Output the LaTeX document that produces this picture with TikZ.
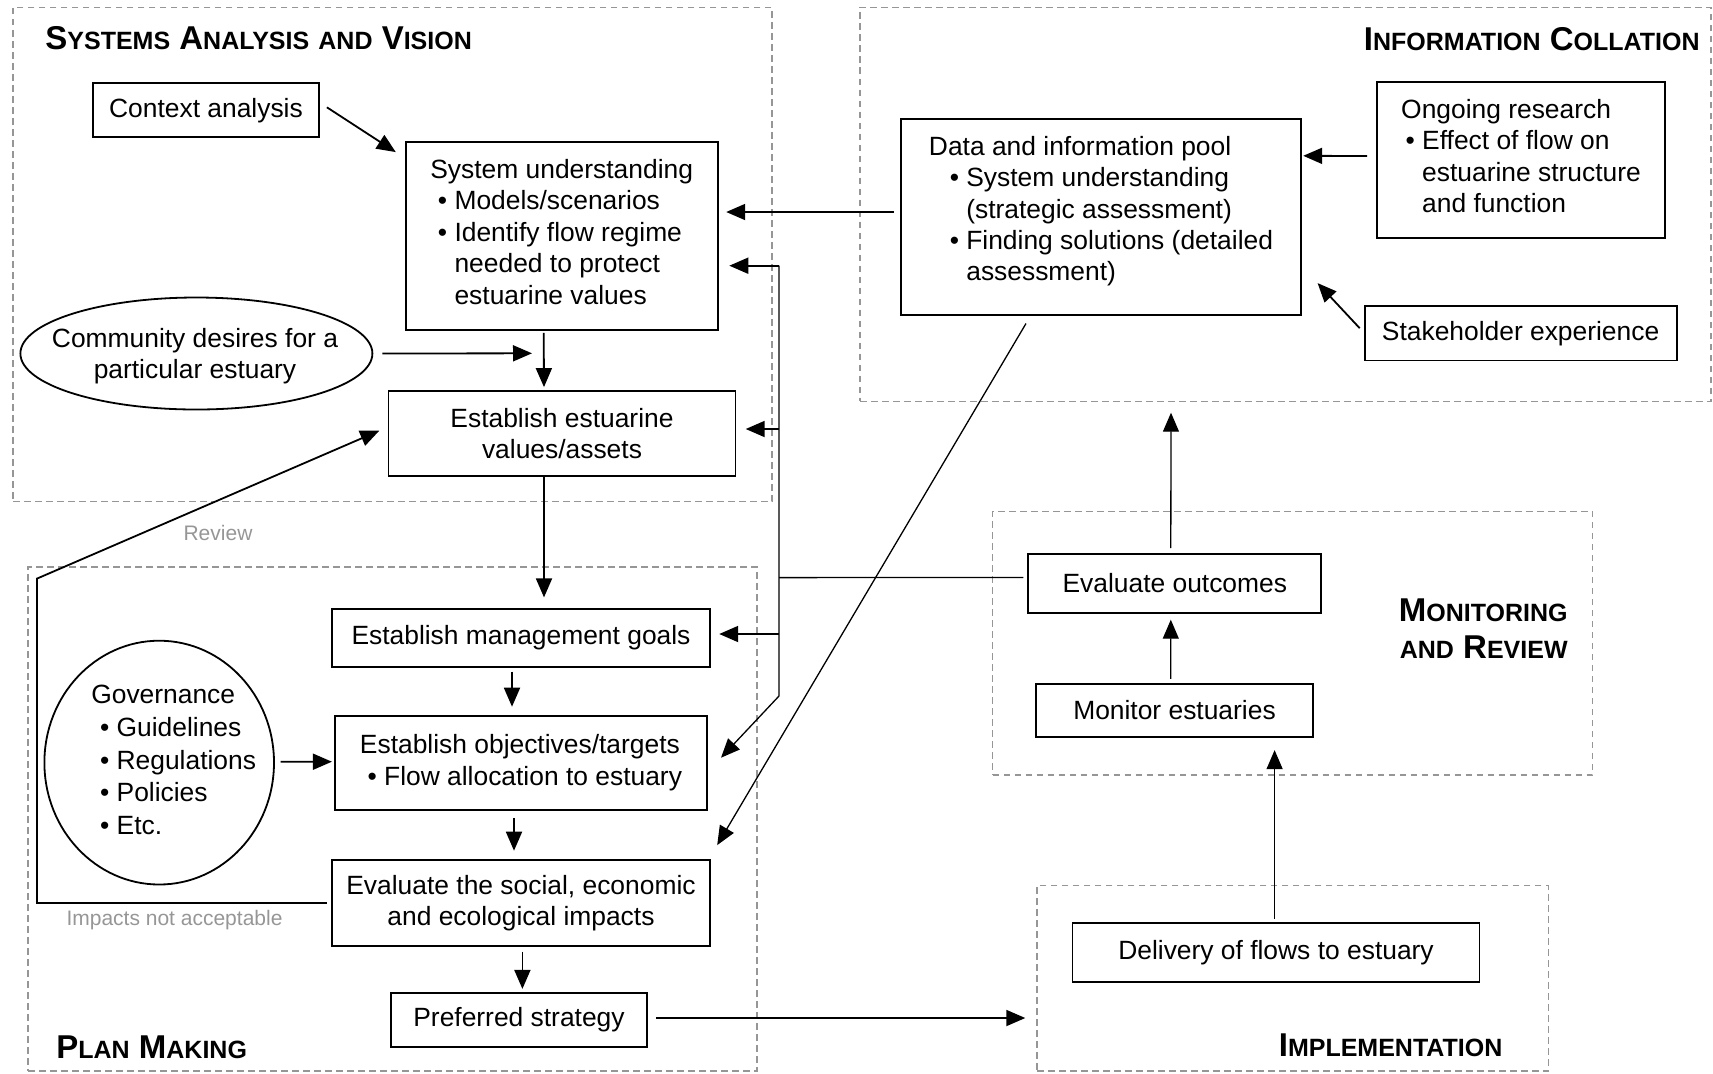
\documentclass[tikz,border=0pt]{standalone}
\usepackage{fontspec}
\setmainfont{Liberation Sans}
\usetikzlibrary{arrows.meta,shapes.geometric}

\definecolor{regiongray}{RGB}{150,150,150}
\definecolor{notegray}{RGB}{150,150,150}
\newcommand\bodyfont{\fontsize{13.2}{15.7}\selectfont}
\newcommand\hsc[2]{{\fontsize{16.5}{18.5}\selectfont #1}{\fontsize{12.5}{14}\selectfont #2}}
\newcommand\sml[1]{{\fontsize{12.5}{14}\selectfont #1}}
\newcommand\bitem[2]{\hspace*{#1}\textbullet\ #2}
\newcommand\bcont[2]{\hspace*{#1}\phantom{\textbullet\ }#2}

\begin{document}
\begin{tikzpicture}[x=0.5pt,y=-0.5pt,
    box/.style={draw,line width=0.9pt,inner sep=2pt,font=\bodyfont},
    oval/.style={draw,ellipse,line width=0.9pt,inner sep=0pt},
    region/.style={draw=regiongray,line width=0.6pt,dash pattern=on 3.3pt off 2.2pt,inner sep=0pt},
    heading/.style={font=\bfseries\fontsize{16.5}{18.5}\selectfont,inner sep=0pt},
    note/.style={text=notegray,font=\fontsize{10.5}{12}\selectfont,inner sep=0pt},
    arr/.style={-{Triangle[length=9.5pt,width=8pt]},line width=0.9pt},
    thinarr/.style={arr,line width=0.65pt},
    thinline/.style={line width=0.65pt}]
  \useasboundingbox (0,0) rectangle (1713,1073);

  % dashed regions
  \node[region,minimum width=379.5pt,minimum height=247.2pt] (sav) at (392.5,254.5) {};
  \node[region,minimum width=425.5pt,minimum height=196.9pt] (ic) at (1285.5,204.2) {};
  \node[region,minimum width=364.5pt,minimum height=252pt] (pm) at (392.5,819) {};
  \node[region,minimum width=300.1pt,minimum height=131.8pt] (mr) at (1292.7,643.2) {};
  \node[region,minimum width=255.8pt,minimum height=92.6pt] (impl) at (1292.7,978.4) {};

  \node[heading,anchor=west] (savhead) at (45,38) {\hsc{S}{YSTEMS} \hsc{A}{NALYSIS} \sml{AND} \hsc{V}{ISION}};
  \node[heading,anchor=east] (ichead) at (1700,39) {\hsc{I}{NFORMATION} \hsc{C}{OLLATION}};
  \node[heading,anchor=west] (pmhead) at (56,1047) {\hsc{P}{LAN} \hsc{M}{AKING}};
  \node[heading,anchor=east,align=right] (mrhead) at (1568,629) {\hsc{M}{ONITORING}\\\sml{AND} \hsc{R}{EVIEW}};
  \node[heading] (implhead) at (1390.6,1045.4) {\hsc{I}{MPLEMENTATION}};

  % systems analysis and vision
  \node[box,minimum width=113pt,minimum height=27pt] (ctx) at (206,110.3) {Context analysis};
  \node[box,minimum width=156pt,minimum height=94pt,align=left] (sysund) at (561.7,236) {System understanding\\
    \bitem{3.8pt}{Models/scenarios}\\
    \bitem{3.8pt}{Identify flow regime}\\
    \bcont{3.8pt}{needed to protect}\\
    \bcont{3.8pt}{estuarine values}\\[-11.5pt]\mbox{}};
  \node[oval,minimum width=176pt,minimum height=56pt] (comm) at (196.4,353.5) {};
  \node[font=\bodyfont,align=center,inner sep=0pt] (commtxt) at (195,356) {Community desires for a\\particular estuary};
  \node[box,minimum width=173.5pt,minimum height=42.5pt,align=center] (vals) at (562,433.5) {Establish estuarine\\values/assets};

  % information collation
  \node[box,minimum width=200.3pt,minimum height=97.8pt,align=left] (pool) at (1101,216.8) {Data and information pool\\
    \bitem{10.4pt}{System understanding}\\
    \bcont{10.4pt}{(strategic assessment)}\\
    \bitem{10.4pt}{Finding solutions (detailed}\\
    \bcont{10.4pt}{assessment)}\\[-7.4pt]\mbox{}};
  \node[box,minimum width=144pt,minimum height=77.7pt,align=left] (research) at (1521,160) {Ongoing research\\
    \bitem{2.2pt}{Effect of flow on}\\
    \bcont{2.2pt}{estuarine structure}\\
    \bcont{2.2pt}{and function}\\[-11.5pt]\mbox{}};
  \node[box,minimum width=156pt,minimum height=27.2pt] (stake) at (1520.6,333.2) {Stakeholder experience};

  % plan making
  \node[box,minimum width=189.3pt,minimum height=28.7pt] (goals) at (521,638) {Establish management goals};
  \node[box,minimum width=185.7pt,minimum height=47.2pt,align=left] (obj) at (521,762.8) {Establish objectives/targets\\
    \bitem{3.8pt}{Flow allocation to estuary}};
  \node[box,minimum width=189.3pt,minimum height=43pt,align=center] (evimp) at (521,903) {Evaluate the social, economic\\and ecological impacts};
  \node[box,minimum width=128.3pt,minimum height=27.2pt] (pref) at (519,1020) {Preferred strategy};
  \node[oval,minimum width=114.8pt,minimum height=121.9pt] (gov) at (159.2,762.6) {};
  \node[font=\fontsize{13.2}{16.4}\selectfont,align=left,inner sep=0pt] (govtxt) at (173.7,760) {Governance\\
    \bitem{4.4pt}{Guidelines}\\
    \bitem{4.4pt}{Regulations}\\
    \bitem{4.4pt}{Policies}\\
    \bitem{4.4pt}{Etc.}};

  % monitoring, implementation
  \node[box,minimum width=146.5pt,minimum height=29.3pt] (evout) at (1174.8,583.5) {Evaluate outcomes};
  \node[box,minimum width=138.2pt,minimum height=26.6pt] (mon) at (1174.5,710.5) {Monitor estuaries};
  \node[box,minimum width=203.5pt,minimum height=29.3pt] (deliv) at (1276,952.6) {Delivery of flows to estuary};

  \node[note] (revlbl) at (218,533) {Review};
  \node[note] (implbl) at (174.5,920.3) {Impacts not acceptable};

  \coordinate (cmeet) at (532,353.3);
  \coordinate (trtop) at (779,265.7);
  \coordinate (trjoin) at (779,577.6);
  \coordinate (trbot) at (779,696);
  \coordinate (revtl) at (37,578.6);
  \coordinate (valtip) at ([shift={(9.3,-4.5)}]vals.east);
  \coordinate (goaltip) at ([shift={(8,-4)}]goals.east);

  \draw[arr] ([shift={(7,-3)}]ctx.east) -- ([shift={(-9,11)}]sysund.north west);
  \draw[arr] ([shift={(9,0)}]comm.east) -- (cmeet);
  \draw[arr] ([shift={(-18,2)}]sysund.south) -- ([shift={(-18,-3)}]vals.north);
  \draw[arr] ([shift={(-5.6,-4.8)}]pool.west) -- ([shift={(7.6,-24)}]sysund.east);

  % feedback from evaluate outcomes
  \draw[thinarr] (trtop) -- (trbot) -- ([shift={(13.4,-5.1)}]obj.east);
  \draw[arr] (trtop) -- ([shift={(10.7,29.7)}]sysund.east);
  \draw[arr] (trtop |- valtip) -- (valtip);
  \draw[arr] (trtop |- goaltip) -- (goaltip);
  \draw[thinline] ([shift={(-4,-6)}]evout.west) -- (trjoin);

  \draw[arr] ([shift={(-18,0)}]vals.south) -- ([shift={(23,-11)}]goals.north);
  \draw[arr] ([shift={(-9,4)}]goals.south) -- ([shift={(-9,-8)}]obj.north);
  \draw[arr] ([shift={(-7,7)}]obj.south) -- ([shift={(-7,-8.4)}]evimp.north);
  \draw[arr] ([shift={(1.4,4.7)}]evimp.south) -- ([shift={(3.4,-3)}]pref.north);
  \draw[arr] ([shift={(5.6,-0.9)}]gov.east) -- ([shift={(-2.5,-1.1)}]obj.west);
  \draw[arr] ([shift={(8.2,-2)}]pref.east) -- ([shift={(-11,39.6)}]impl.west);
  \draw[arr] ([shift={(-4,0)}]evimp.west) -- (revtl |- evimp.west) -- (revtl) -- ([shift={(-8.3,-2.8)}]vals.west);

  \draw[thinarr] ([shift={(-75,8)}]pool.south) -- ([shift={(6,-14)}]evimp.north east);
  \draw[arr] ([shift={(-9,-4)}]research.west) -- ([shift={(1,-61)}]pool.east);
  \draw[arr] ([shift={(-4,-5)}]stake.west) -- ([shift={(15.4,-32.4)}]pool.south east);

  \draw[thinarr] ([shift={(-4,-5.3)}]evout.north) -- ([shift={(-114.5,11)}]ic.south);
  \draw[thinarr] ([shift={(-3.7,-4.2)}]mon.north) -- ([shift={(-4,6)}]evout.south);
  \draw[thinarr] ([shift={(-1.4,-3.8)}]deliv.north) -- ([shift={(100.1,12.1)}]mon.south);
\end{tikzpicture}
\end{document}
